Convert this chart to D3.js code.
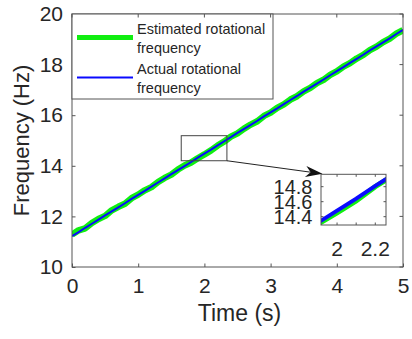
<!DOCTYPE html>
<html><head><meta charset="utf-8">
<script src="https://cdn.jsdelivr.net/npm/d3@7"></script>
<style>
html,body{margin:0;padding:0;background:#fff;}
text{font-family:"Liberation Sans",Arial,Helvetica,sans-serif;fill:#262626;}
</style></head>
<body><svg id="c" width="412" height="339"></svg>
<script>
// ---- data ----
const time = [0,0.1,0.2,0.3,0.4,0.5,0.6,0.7,0.8,0.9,1,1.1,1.2,1.3,1.4,1.5,1.6,1.7,1.8,1.9,2,2.1,2.2,2.3,2.4,2.5,2.6,2.7,2.8,2.9,3,3.1,3.2,3.3,3.4,3.5,3.6,3.7,3.8,3.9,4,4.1,4.2,4.3,4.4,4.5,4.6,4.7,4.8,4.9,5];
const actualFreq = [11.22,11.38,11.55,11.71,11.87,12.04,12.20,12.36,12.52,12.69,12.85,13.01,13.18,13.34,13.50,13.67,13.83,13.99,14.15,14.32,14.48,14.64,14.81,14.97,15.13,15.30,15.46,15.62,15.78,15.95,16.11,16.27,16.44,16.60,16.76,16.93,17.09,17.25,17.41,17.58,17.74,17.90,18.07,18.23,18.39,18.56,18.72,18.88,19.04,19.21,19.37];
const estimatedFreq = [11.28,11.45,11.53,11.74,11.90,12.02,12.24,12.38,12.50,12.72,12.86,13.03,13.16,13.36,13.52,13.65,13.85,14.01,14.13,14.30,14.45,14.61,14.80,14.96,15.15,15.28,15.47,15.63,15.76,15.97,16.10,16.29,16.43,16.62,16.75,16.94,17.08,17.27,17.40,17.59,17.73,17.92,18.06,18.24,18.38,18.57,18.71,18.89,19.03,19.22,19.36];
const xTicks = [0,1,2,3,4,5];
const yTicks = [10,12,14,16,18,20];
const insetXTicks = [2,2.1,2.2];
const insetXLabels = ["2","","2.2"];
const insetYTicks = [14.4,14.6,14.8];
const insetYLabels = ["14.4","14.6","14.8"];
const zoomRegionX = [1.65,2.34];
const zoomRegionY = [14.2,15.19];
const insetDomainX = [1.916,2.256];
const insetDomainY = [14.289,14.965];
const legendLabels = [["Estimated rotational","frequency"],["Actual rotational","frequency"]];

// ---- layout ----
const svg = d3.select("#c");
const M = {l:72, r:403, t:14, b:267};
const x = d3.scaleLinear().domain([0,5]).range([M.l,M.r]);
const y = d3.scaleLinear().domain([10,20]).range([M.b,M.t]);
const axisCol = "#555";
const green = "#11ee11", blue = "#0a0aff";
const rows = time.map((t,i)=>({t, a:actualFreq[i], e:estimatedFreq[i]}));

const defs = svg.append("defs");
defs.append("clipPath").attr("id","mainclip").append("rect")
  .attr("x",M.l).attr("y",M.t).attr("width",M.r-M.l).attr("height",M.b-M.t);

const lineE = d3.line().x(d=>x(d.t)).y(d=>y(d.e));
const lineA = d3.line().x(d=>x(d.t)).y(d=>y(d.a));
const g = svg.append("g").attr("clip-path","url(#mainclip)");
g.append("path").datum(rows).attr("d",lineE).attr("fill","none").attr("stroke",green).attr("stroke-width",6.5).attr("stroke-linejoin","round");
g.append("path").datum(rows).attr("d",lineA).attr("fill","none").attr("stroke",blue).attr("stroke-width",2);

svg.append("rect").attr("x",M.l).attr("y",M.t).attr("width",M.r-M.l).attr("height",M.b-M.t)
  .attr("fill","none").attr("stroke",axisCol).attr("stroke-width",1);

const xAx = svg.append("g").attr("transform",`translate(0,${M.b})`)
  .call(d3.axisBottom(x).tickValues(xTicks).tickSize(-3.5).tickPadding(9).tickFormat(d3.format("d")));
xAx.select(".domain").remove();
xAx.selectAll("line").attr("stroke",axisCol);
xAx.selectAll("text").attr("font-size",21).attr("fill","#262626").attr("dy","0.8em");

const yAx = svg.append("g").attr("transform",`translate(${M.l},0)`)
  .call(d3.axisLeft(y).tickValues(yTicks).tickSize(-3.5).tickPadding(9).tickFormat(d3.format("d")));
yAx.select(".domain").remove();
yAx.selectAll("line").attr("stroke",axisCol);
yAx.selectAll("text").attr("font-size",21).attr("fill","#262626");

svg.append("g").selectAll("line").data(yTicks).join("line")
  .attr("x1",M.r).attr("x2",M.r-3.5).attr("y1",d=>y(d)).attr("y2",d=>y(d)).attr("stroke",axisCol);

svg.append("text").attr("x",(M.l+M.r)/2+2).attr("y",321).attr("text-anchor","middle")
  .attr("font-size",23).text("Time (s)");
svg.append("text").attr("transform",`translate(29,${(M.t+M.b)/2}) rotate(-90)`).attr("text-anchor","middle")
  .attr("font-size",22).text("Frequency (Hz)");

// legend
const lg = svg.append("g");
lg.append("rect").attr("x",M.l).attr("y",M.t).attr("width",201).attr("height",85)
  .attr("fill","#fff").attr("stroke",axisCol).attr("stroke-width",1);
const legItems = [{col:green,w:5,y:37.5},{col:blue,w:2,y:77.5}];
legItems.forEach((it,i)=>{
  lg.append("line").attr("x1",77).attr("x2",133).attr("y1",it.y).attr("y2",it.y)
    .attr("stroke",it.col).attr("stroke-width",it.w);
  legendLabels[i].forEach((s,j)=>{
    lg.append("text").attr("x",137).attr("y",33.5+i*40+j*19.5).attr("font-size",14.5).text(s);
  });
});
svg.append("g").selectAll("line").data(xTicks).join("line")
  .attr("x1",d=>x(d)).attr("x2",d=>x(d)).attr("y1",M.t).attr("y2",M.t+3.5).attr("stroke",axisCol);

// zoom rectangle
const rx0 = x(zoomRegionX[0]), rx1 = x(zoomRegionX[1]), ry0 = y(zoomRegionY[1]), ry1 = y(zoomRegionY[0]);
svg.append("rect").attr("x",rx0).attr("y",ry0).attr("width",rx1-rx0).attr("height",ry1-ry0)
  .attr("fill","none").attr("stroke","#444").attr("stroke-width",1);

// inset
const I = {l:321, r:386, t:174.3, b:225};
const ix = d3.scaleLinear().domain(insetDomainX).range([I.l,I.r]);
const iy = d3.scaleLinear().domain(insetDomainY).range([I.b,I.t]);
defs.append("clipPath").attr("id","insclip").append("rect")
  .attr("x",I.l).attr("y",I.t).attr("width",I.r-I.l).attr("height",I.b-I.t);
svg.append("rect").attr("x",I.l).attr("y",I.t).attr("width",I.r-I.l).attr("height",I.b-I.t).attr("fill","#fff");
const ig = svg.append("g").attr("clip-path","url(#insclip)");
ig.append("path").datum(rows).attr("d",d3.line().x(d=>ix(d.t)).y(d=>iy(d.e)))
  .attr("fill","none").attr("stroke",green).attr("stroke-width",5);
ig.append("path").datum(rows).attr("d",d3.line().x(d=>ix(d.t)).y(d=>iy(d.a)))
  .attr("fill","none").attr("stroke",blue).attr("stroke-width",4);
svg.append("rect").attr("x",I.l).attr("y",I.t).attr("width",I.r-I.l).attr("height",I.b-I.t)
  .attr("fill","none").attr("stroke",axisCol).attr("stroke-width",1);
const itk = svg.append("g").attr("stroke",axisCol);
insetXTicks.forEach(v=>{
  itk.append("line").attr("x1",ix(v)).attr("x2",ix(v)).attr("y1",I.b).attr("y2",I.b-2.5);
  itk.append("line").attr("x1",ix(v)).attr("x2",ix(v)).attr("y1",I.t).attr("y2",I.t+2.5);
});
insetYTicks.forEach(v=>{
  itk.append("line").attr("x1",I.l).attr("x2",I.l+2.5).attr("y1",iy(v)).attr("y2",iy(v));
  itk.append("line").attr("x1",I.r).attr("x2",I.r-2.5).attr("y1",iy(v)).attr("y2",iy(v));
});
svg.append("g").selectAll("text").data(insetXTicks).join("text")
  .attr("x",d=>ix(d)).attr("y",255.5).attr("text-anchor","middle").attr("font-size",21)
  .text((d,i)=>insetXLabels[i]);
svg.append("g").selectAll("text").data(insetYTicks).join("text")
  .attr("x",I.l-8.5).attr("y",d=>iy(d)).attr("dy","0.36em").attr("text-anchor","end").attr("font-size",20)
  .text((d,i)=>insetYLabels[i]);

// arrow
const ax0 = rx1, ay0 = ry1, ax1 = I.l+1.5, ay1 = I.t - 0.5;
const ang = Math.atan2(ay1-ay0, ax1-ax0);
const L = 17, W = 5.5, N = 12;
const ux = Math.cos(ang), uy = Math.sin(ang), nx = -uy, ny = ux;
svg.append("line").attr("x1",ax0).attr("y1",ay0).attr("x2",ax1-ux*N).attr("y2",ay1-uy*N)
  .attr("stroke","#222").attr("stroke-width",1);
const pts = [[ax1,ay1],[ax1-ux*L+nx*W, ay1-uy*L+ny*W],[ax1-ux*N, ay1-uy*N],[ax1-ux*L-nx*W, ay1-uy*L-ny*W]];
svg.append("path").attr("d","M"+pts.map(p=>p.join(",")).join("L")+"Z").attr("fill","#111");
</script></body></html>
